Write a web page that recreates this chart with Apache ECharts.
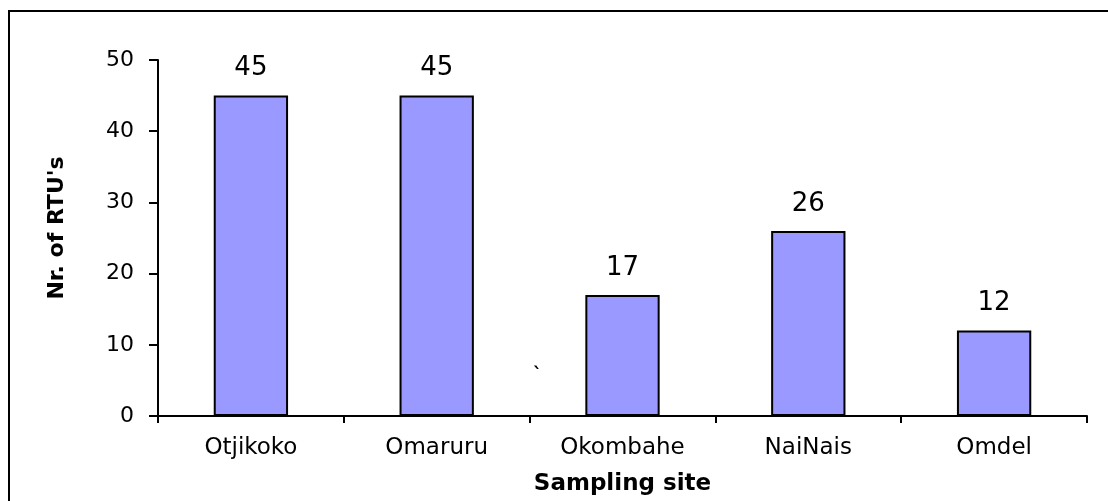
<!DOCTYPE html>
<html>
<head>
<meta charset="utf-8">
<script src="https://cdn.jsdelivr.net/npm/echarts@6/dist/echarts.min.js"></script>
<style>
html,body{margin:0;padding:0;background:#fff;}
#chart{width:1108px;height:501px;}
</style>
</head>
<body>
<div id="chart"></div>
<script>
var categories = ['Otjikoko', 'Omaruru', 'Okombahe', 'NaiNais', 'Omdel'];
var values = [45, 45, 17, 26, 12];
var yTicks = [0, 10, 20, 30, 40, 50];
var xTitle = 'Sampling site';
var yTitle = "Nr. of RTU's";

var FONT = 'DejaVu Sans';
var chart = echarts.init(document.getElementById('chart'), null, {renderer: 'canvas'});
chart.setOption({
  animation: false,
  backgroundColor: '#ffffff',
  grid: {left: 158, right: 21, top: 60, bottom: 85, containLabel: false},
  xAxis: {
    type: 'category',
    data: categories,
    name: xTitle,
    nameLocation: 'middle',
    nameGap: 57,
    nameTextStyle: {fontFamily: FONT, fontWeight: 'bold', fontSize: 23, color: '#000'},
    axisLine: {lineStyle: {color: '#000', width: 2}},
    axisTick: {show: true, length: 7, lineStyle: {color: '#000', width: 2}, alignWithLabel: false},
    axisLabel: {fontFamily: FONT, fontSize: 23, color: '#000', margin: 21},
    splitLine: {show: false}
  },
  yAxis: {
    type: 'value',
    min: yTicks[0],
    max: yTicks[yTicks.length - 1],
    interval: 10,
    axisLine: {show: true, lineStyle: {color: '#000', width: 2}},
    axisTick: {show: true, length: 9, lineStyle: {color: '#000', width: 2}},
    axisLabel: {fontFamily: FONT, fontSize: 22, color: '#000', margin: 24},
    splitLine: {show: false}
  },
  series: [{
    type: 'bar',
    data: values,
    barWidth: '40%',
    itemStyle: {color: '#9999FF', borderColor: '#000', borderWidth: 2},
    label: {show: true, position: 'top', distance: 14, fontFamily: FONT, fontSize: 26, color: '#000'}
  }],
  graphic: [
    {type: 'rect', shape: {x: 9, y: 11, width: 1300, height: 700}, style: {fill: 'none', stroke: '#000', lineWidth: 2}, silent: true},
    {type: 'text', x: 57, y: 228, rotation: Math.PI / 2, style: {text: yTitle, font: 'bold 22px ' + FONT, fill: '#000', align: 'center', verticalAlign: 'middle'}, silent: true},
    {type: 'text', left: 533, top: 366, style: {text: '`', font: 'bold 18px ' + FONT, fill: '#000'}, silent: true}
  ]
});
</script>
</body>
</html>
